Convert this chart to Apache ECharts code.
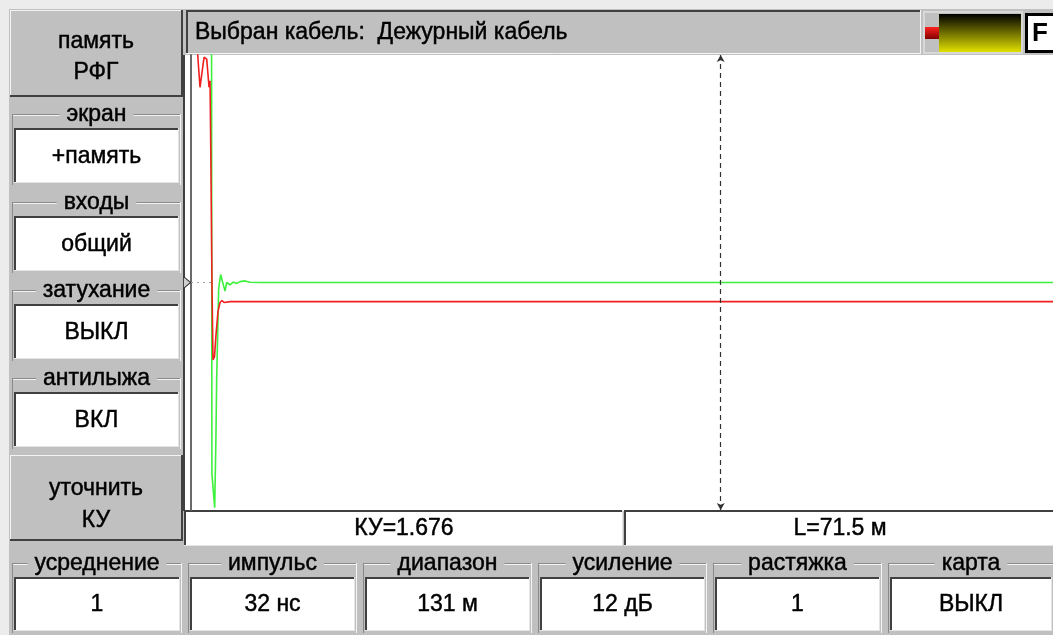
<!DOCTYPE html>
<html>
<head>
<meta charset="utf-8">
<script src="https://cdn.jsdelivr.net/npm/echarts@6/dist/echarts.min.js"></script>
<style>
html, body { margin: 0; padding: 0; background: #ececec; }
#chart { width: 1053px; height: 635px; }
</style>
</head>
<body>
<div id="chart"></div>
<script>
// reflectogram traces: distance (m) and normalised amplitude
const greenX = [-9, -5.88, -5.82, -5.4, -5.22, -5.1, -4.8, -4.5, -3.83, -3.57, -3.07, -2.57, -2.05, -1.55, -0.79, -0.03, 1.5, 122];
const greenY = [1.3, 1.3, -0.84, -0.99, -0.70, -0.43, -0.03, 0.035, -0.038, 0, -0.01, 0.002, -0.004, 0.004, 0.007, 0.001, 0, 0];
const redX = [-9, -8.0, -7.98, -7.63, -7.02, -6.61, -6.26, -6.11, -6.0, -5.81, -5.66, -5.43, -5.2, -4.9, -4.59, -4.29, -3.98, -3.07, 122];
const redY = [1.3, 1.3, 1.0, 0.858, 0.99, 0.982, 0.858, 0.887, 0.60, -0.01, -0.34, -0.326, -0.23, -0.128, -0.088, -0.079, -0.088, -0.084, -0.084];
const cursorM = 71.5;
const rangeMin = -9, rangeMax = 122;

const cableName = 'Выбран кабель:  Дежурный кабель';
const kuText = 'КУ=1.676';
const lenText = 'L=71.5 м';
const sideLabels = ['экран', 'входы', 'затухание', 'антилыжа'];
const sideValues = ['+память', 'общий', 'ВЫКЛ', 'ВКЛ'];
const bottomLabels = ['усреднение', 'импульс', 'диапазон', 'усиление', 'растяжка', 'карта'];
const bottomValues = ['1', '32 нс', '131 м', '12 дБ', '1', 'ВЫКЛ'];

const FONT = '"Liberation Sans", Arial, sans-serif';
const GRAY = '#c0c0c0', DARK = '#404040', LIGHT = '#f4f4f4';
const FS = 23;

const g = [];
function rect(x, y, w, h, fill) {
  g.push({ type: 'rect', silent: true, shape: { x, y, width: w, height: h }, style: { fill } });
}
function seg(x1, y1, x2, y2, color, w) {
  g.push({ type: 'line', silent: true, shape: { x1, y1, x2, y2 }, style: { stroke: color, lineWidth: w || 1 } });
}
// device font is heavier than Liberation regular, a thin stroke thickens it
function label(x, y, text, size, bg, align) {
  const st = { text, x, y, fill: '#000', stroke: '#000', lineWidth: 0.45, fontFamily: FONT, fontSize: size,
    align: align || 'center', verticalAlign: 'middle' };
  if (bg) { st.backgroundColor = bg; st.padding = [0, 7]; }
  g.push({ type: 'text', silent: true, style: st });
}
function raised(x, y, w, h) {
  rect(x, y, w, h, GRAY);
  seg(x, y + 0.5, x + w, y + 0.5, LIGHT, 1);
  seg(x + 0.5, y, x + 0.5, y + h, LIGHT, 1);
  seg(x, y + h - 1, x + w, y + h - 1, DARK, 2);
  seg(x + w - 1, y, x + w - 1, y + h, DARK, 2);
}
function sunken(x, y, w, h) {
  rect(x, y, w, h, '#fff');
  seg(x, y + 1, x + w, y + 1, DARK, 2);
  seg(x + 1, y, x + 1, y + h, DARK, 2);
  seg(x, y + h - 0.5, x + w, y + h - 0.5, '#e4e4e4', 1);
  seg(x + w - 0.5, y, x + w - 0.5, y + h, '#e4e4e4', 1);
}
function group(x, y, w, h, name, value) {
  // etched frame with caption, then sunken value box
  seg(x + 2, y + 0.5, x + w - 2, y + 0.5, '#8a8a8a', 1);
  seg(x + 2, y + 1.5, x + w - 2, y + 1.5, LIGHT, 1);
  seg(x + 2.5, y, x + 2.5, y + h, '#8a8a8a', 1);
  seg(x + w - 2.5, y, x + w - 2.5, y + h, LIGHT, 1);
  label(x + w / 2, y + 1, name, FS, GRAY);
  sunken(x + 4, y + 14, w - 8, h - 16);
  label(x + w / 2, y + 15 + (h - 16) / 2, value, FS);
}

// device frame
rect(9, 9, 1044, 626, GRAY);

// left panel
raised(10, 10, 173, 87);
label(96, 42, 'память', FS);
label(96, 73, 'РФГ', FS);
sideLabels.forEach((s, i) => group(10, 114 + i * 88, 173, 71, s, sideValues[i]));
raised(10, 455, 173, 86);
label(96, 489, 'уточнить', FS);
label(96, 521, 'КУ', FS);

// title bar
rect(186, 10, 735, 44, GRAY);
seg(186, 11, 921, 11, DARK, 2);
seg(187, 10, 187, 54, DARK, 2);
seg(186, 53.5, 921, 53.5, LIGHT, 1);
seg(920.5, 10, 920.5, 54, LIGHT, 1);
label(195, 33, cableName, FS, null, 'left');

// level indicator and F key
rect(923, 11, 100, 43, '#d8d8d8');
rect(925, 13, 96, 39, GRAY);
g.push({ type: 'rect', silent: true, shape: { x: 925, y: 27, width: 14, height: 12 },
  style: { fill: new echarts.graphic.LinearGradient(0, 0, 0, 1, [{ offset: 0, color: '#ff2020' }, { offset: 1, color: '#800000' }]) } });
g.push({ type: 'rect', silent: true, shape: { x: 939, y: 14, width: 82, height: 38 },
  style: { fill: new echarts.graphic.LinearGradient(0, 0, 0, 1, [{ offset: 0, color: '#000000' }, { offset: 1, color: '#e0e000' }]) } });
rect(1025, 13, 30, 40, '#000');
rect(1028, 16, 30, 34, '#fff');
g.push({ type: 'text', silent: true, style: { text: 'F', x: 1032, y: 34, fill: '#000', fontFamily: FONT, fontSize: 26, fontWeight: 'bold', align: 'left', verticalAlign: 'middle' } });

// plot background and white strip left of the axis
rect(184, 55, 870, 456, '#fff');
seg(184, 55, 184, 511, DARK, 2);

// info boxes under plot
sunken(184, 510, 439, 36);
label(404, 529, kuText, FS);
sunken(624, 510, 430, 36);
label(840, 529, lenText, FS);

// bottom parameter row
const bx = [10, 186, 361, 536, 711, 886];
bottomLabels.forEach((s, i) => group(bx[i], 563, (i < 5 ? bx[i + 1] : 1058) - bx[i] - 2, 70, s, bottomValues[i]));

const zip = (xs, ys) => xs.map((x, i) => [x, ys[i]]);

const chart = echarts.init(document.getElementById('chart'));
chart.setOption({
  animation: false,
  grid: { left: 191, top: 55, width: 862, height: 455, show: false },
  xAxis: {
    type: 'value', min: rangeMin, max: rangeMax,
    axisLine: { show: false }, axisTick: { show: false }, axisLabel: { show: false }, splitLine: { show: false }
  },
  yAxis: {
    type: 'value', min: -1, max: 1,
    axisLine: { show: true, onZero: false, lineStyle: { color: '#6a6a6a', width: 2 } },
    axisTick: { show: false }, axisLabel: { show: false }, splitLine: { show: false }
  },
  series: [
    {
      type: 'line', data: zip(greenX, greenY), symbol: 'none', clip: true,
      lineStyle: { color: '#3cf03c', width: 1.6 },
      markLine: {
        silent: true, symbol: 'none', animation: false,
        lineStyle: { color: '#a0a0a0', type: [2, 4], width: 1 },
        label: { show: false },
        data: [[{ coord: [rangeMin, 0] }, { coord: [-5.6, 0] }]]
      },
      markPoint: {
        silent: true, animation: false,
        symbol: 'path://M0,0 L10,6 L0,12 Z', symbolSize: [7, 12], symbolOffset: [-4, 0],
        itemStyle: { color: '#d0d0d0', borderColor: '#303030', borderWidth: 1 },
        label: { show: false },
        data: [{ coord: [rangeMin, 0] }]
      }
    },
    {
      type: 'line', data: zip(redX, redY), symbol: 'none', clip: true,
      lineStyle: { color: '#f02020', width: 1.6 },
      markLine: {
        silent: true, animation: false,
        symbol: ['arrow', 'arrow'], symbolSize: [6, 7],
        lineStyle: { color: '#303030', type: [5, 4], width: 1.2 },
        itemStyle: { color: '#303030' },
        label: { show: false },
        data: [{ xAxis: cursorM }]
      }
    }
  ],
  graphic: { elements: g }
});
</script>
</body>
</html>
